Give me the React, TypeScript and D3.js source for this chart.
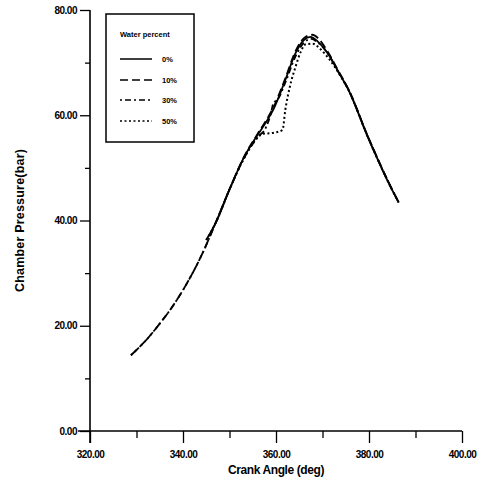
import * as d3 from 'd3';
import { useRef, useEffect } from 'react';

// crank angle (deg) and chamber pressure (bar)
const angle0 = [345, 347, 350, 353, 356, 357.8, 359.5, 362.0, 364.2, 366.0, 367.4, 369.0, 371.1, 373.5, 375.6, 379.7, 384.7, 386.4];
const p0 = [36.3, 39.5, 45.9, 51.8, 56.2, 58.6, 61.2, 66.7, 71.8, 74.3, 74.9, 74.0, 71.8, 68.1, 64.8, 56.0, 46.3, 43.4];

const angle10 = [328.8, 332, 335, 338, 341, 344, 347, 350, 353, 356, 357.8, 359.5, 362.0, 364.2, 366.2, 367.8, 369.3, 371.1, 373.5, 375.6, 379.7, 384.7, 386.4];
const p10 = [14.4, 17.2, 20.4, 24.0, 28.3, 33.4, 39.5, 45.9, 51.9, 56.4, 58.9, 61.6, 67.0, 72.2, 74.8, 75.3, 74.4, 72.1, 68.3, 64.9, 56.1, 46.4, 43.4];

const angle30 = [328.8, 332, 335, 338, 341, 344, 347, 350, 353, 356, 357.8, 358.8, 359.5, 360.3, 362.0, 364.2, 366.0, 367.6, 369.0, 371.1, 373.5, 375.6, 379.7, 384.7, 386.4];
const p30 = [14.4, 17.2, 20.4, 24.0, 28.3, 33.4, 39.5, 45.9, 51.6, 55.8, 57.6, 60.0, 62.4, 62.9, 66.2, 71.2, 73.8, 74.5, 73.8, 71.8, 68.1, 64.8, 56.0, 46.3, 43.4];

const angle50 = [345, 347, 350, 353, 355.5, 357.3, 359.0, 361.4, 362.0, 363.0, 364.2, 365.3, 366.4, 367.9, 369.5, 371.5, 373.5, 375.6, 379.7, 384.7, 386.4];
const p50 = [36.3, 39.5, 45.9, 51.6, 55.2, 56.5, 56.6, 57.2, 61.0, 65.5, 69.2, 72.0, 73.5, 73.6, 72.6, 70.6, 68.0, 64.8, 56.0, 46.3, 43.4];

const seriesNames = ['0%', '10%', '30%', '50%'];
const xTicks = [320, 340, 360, 380, 400];
const xMinor = [330, 350, 370, 390];
const yTicks = [0, 20, 40, 60, 80];
const yMinor = [10, 30, 50, 70];

export default function App() {
  const ref = useRef<SVGSVGElement>(null);

  useEffect(() => {
    const width = 481;
    const height = 488;

    const x = d3.scaleLinear().domain([320, 400]).range([90, 462]);
    const y = d3.scaleLinear().domain([0, 80]).range([431, 10]);

    const svg = d3.select(ref.current)
      .attr('width', width)
      .attr('height', height)
      .style('display', 'block')
      .style('font-family', "'Liberation Sans', Arial, sans-serif");

    svg.selectAll('*').remove();
    svg.append('rect').attr('width', width).attr('height', height).attr('fill', '#fff');

    // --- series ---
    const dash = ['', '8,4', '2,3,6,3', '2,2.5'];
    const series = [
      angle0.map((a, i) => [a, p0[i]]),
      angle10.map((a, i) => [a, p10[i]]),
      angle30.map((a, i) => [a, p30[i]]),
      angle50.map((a, i) => [a, p50[i]]),
    ];
    const line = d3.line<number[]>()
      .x(d => x(d[0]))
      .y(d => y(d[1]))
      .curve(d3.curveMonotoneX);

    series.forEach((s, i) => {
      svg.append('path')
        .attr('d', line(s))
        .attr('fill', 'none')
        .attr('stroke', '#000')
        .attr('stroke-width', i === 3 ? 2 : 1.8)
        .attr('stroke-dasharray', dash[i] || null);
    });

    // --- axes ---
    const yAxis = svg.append('g').attr('transform', `translate(${x(320)},0)`);
    yAxis.call(d3.axisLeft(y).tickValues(yTicks).tickSize(10).tickFormat(d => d3.format('.2f')(d as number)))
      .call(g => g.select('.domain').remove());
    yAxis.append('g').call(d3.axisLeft(y).tickValues(yMinor).tickSize(5).tickFormat(() => ''))
      .call(g => g.select('.domain').remove());
    yAxis.append('line').attr('x1', 0).attr('x2', 0).attr('y1', y(80)).attr('y2', 443)
      .attr('stroke', '#000').attr('stroke-width', 1.6);

    const xAxis = svg.append('g').attr('transform', `translate(0,${y(0)})`);
    xAxis.call(d3.axisBottom(x).tickValues(xTicks).tickSize(12).tickPadding(8).tickFormat(d => d3.format('.2f')(d as number)))
      .call(g => g.select('.domain').remove());
    xAxis.append('g').call(d3.axisBottom(x).tickValues(xMinor).tickSize(7).tickFormat(() => ''))
      .call(g => g.select('.domain').remove());
    xAxis.append('line').attr('x1', 78).attr('x2', x(400)).attr('y1', 0).attr('y2', 0)
      .attr('stroke', '#000').attr('stroke-width', 1.6);

    svg.selectAll('.tick line').attr('stroke', '#000').attr('stroke-width', 1.3);
    svg.selectAll('.tick text')
      .attr('fill', '#000')
      .style('font-size', '10px')
      .style('font-weight', 'bold')
      .style('letter-spacing', '-0.5px');

    // axis titles
    svg.append('text')
      .attr('transform', `translate(24,${y(40)}) rotate(-90)`)
      .attr('text-anchor', 'middle')
      .style('font-size', '12.5px')
      .style('font-weight', 'bold')
      .style('letter-spacing', '0.2px')
      .text('Chamber Pressure(bar)');
    svg.append('text')
      .attr('x', 276).attr('y', 474)
      .attr('text-anchor', 'middle')
      .style('font-size', '12px')
      .style('font-weight', 'bold')
      .style('letter-spacing', '-0.4px')
      .text('Crank Angle (deg)');

    // --- legend ---
    const lg = svg.append('g');
    lg.append('rect')
      .attr('x', 106).attr('y', 14).attr('width', 88).attr('height', 128)
      .attr('fill', '#fff').attr('stroke', '#000').attr('stroke-width', 1.5);
    lg.append('text')
      .attr('x', 120).attr('y', 37)
      .style('font-size', '7.5px').style('font-weight', 'bold')
      .text('Water percent');
    const rowY = [59, 80, 100, 121];
    seriesNames.forEach((name, i) => {
      lg.append('line')
        .attr('x1', 120).attr('x2', 152).attr('y1', rowY[i]).attr('y2', rowY[i])
        .attr('stroke', '#000').attr('stroke-width', 1.5)
        .attr('stroke-dasharray', dash[i] || null);
      lg.append('text')
        .attr('x', 162).attr('y', rowY[i] + 3)
        .style('font-size', '7.5px').style('font-weight', 'bold')
        .text(name);
    });
  }, []);

  return (
    <div style={{ position: 'absolute', left: 0, top: 0 }}>
      <svg ref={ref}></svg>
    </div>
  );
}
